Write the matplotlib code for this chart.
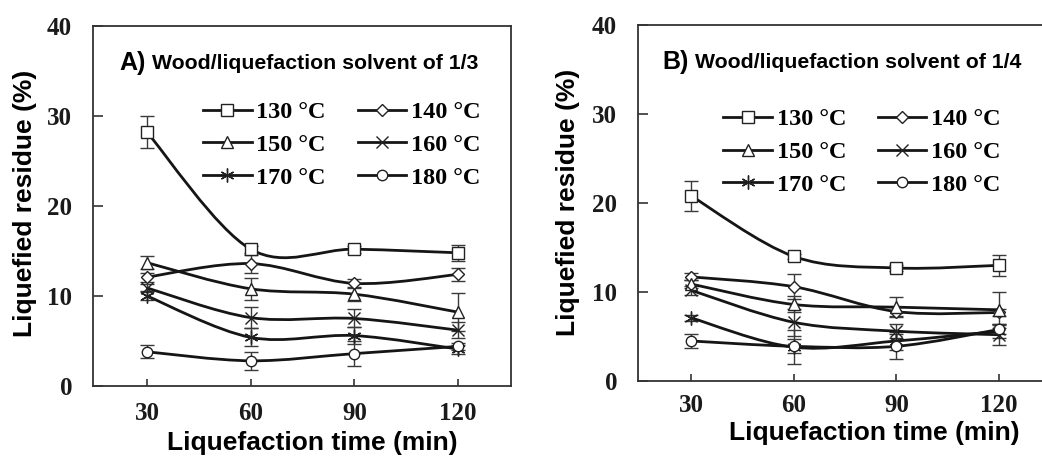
import matplotlib
matplotlib.use("Agg")
import matplotlib.pyplot as plt
from matplotlib.path import Path
from matplotlib.patches import PathPatch
from matplotlib.lines import Line2D

# liquefaction time (min)
times = [30, 60, 90, 120]
temps = ["130 °C", "140 °C", "150 °C", "160 °C", "170 °C", "180 °C"]

# A) wood / solvent 1/3
res_a_130 = [28.2, 15.2, 15.2, 14.8]
res_a_140 = [12.1, 13.6, 11.4, 12.4]
res_a_150 = [13.7, 10.8, 10.2, 8.2]
res_a_160 = [10.9, 7.6, 7.5, 6.2]
res_a_170 = [10.0, 5.4, 5.6, 4.1]
res_a_180 = [3.8, 2.8, 3.6, 4.4]
err_a_130 = [1.8, 0.4, 0.4, 0.9]
err_a_140 = [0.5, 1.0, 0.5, 0.7]
err_a_150 = [0.7, 1.2, 0.8, 2.1]
err_a_160 = [0.4, 1.2, 1.0, 0.9]
err_a_170 = [0.4, 1.0, 0.9, 0.5]
err_a_180 = [0.7, 1.0, 1.4, 0.4]

# B) wood / solvent 1/4
res_b_130 = [20.8, 14.0, 12.7, 13.0]
res_b_140 = [11.7, 10.6, 7.8, 7.7]
res_b_150 = [10.9, 8.6, 8.3, 8.0]
res_b_160 = [10.2, 6.6, 5.6, 5.2]
res_b_170 = [7.1, 3.8, 4.5, 5.6]
res_b_180 = [4.5, 3.9, 3.9, 5.8]
err_b_130 = [1.7, 0.3, 0.3, 1.2]
err_b_140 = [0.4, 1.4, 0.5, 0.4]
err_b_150 = [0.5, 0.9, 1.1, 2.0]
err_b_160 = [0.5, 1.5, 0.8, 1.2]
err_b_170 = [0.3, 1.9, 1.0, 0.8]
err_b_180 = [0.8, 0.8, 1.4, 0.5]

markers = ["s", "D", "^", "x", (6, 2, 0), "o"]
msizes = [9, 6, 8, 8, 10, 7.5]

SERIF = "Liberation Serif"
SANS = "Liberation Sans"
INK = "#151515"


def smooth_path(xs, ys):
    # Excel style smoothed line (Catmull-Rom as cubic Bezier)
    pts = list(zip(xs, ys))
    n = len(pts)
    verts = [pts[0]]
    codes = [Path.MOVETO]
    for i in range(n - 1):
        p0 = pts[max(i - 1, 0)]
        p1 = pts[i]
        p2 = pts[i + 1]
        p3 = pts[min(i + 2, n - 1)]
        c1 = (p1[0] + (p2[0] - p0[0]) / 6, p1[1] + (p2[1] - p0[1]) / 6)
        c2 = (p2[0] - (p3[0] - p1[0]) / 6, p2[1] - (p3[1] - p1[1]) / 6)
        verts += [c1, c2, p2]
        codes += [Path.CURVE4] * 3
    return Path(verts, codes)


def panel(ax, series, errs, xlim, tag, title, legend_xy, ylab_pad, xlab_pad):
    for k, (vals, err) in enumerate(zip(series, errs)):
        ax.add_patch(PathPatch(smooth_path(times, vals), fill=False,
                               lw=2.0, edgecolor=INK, zorder=3))
        ax.errorbar(times, vals, yerr=err, fmt="none", ecolor="#3a3a3a",
                    elinewidth=1.0, capsize=5, capthick=1.0, zorder=2)
        ax.plot(times, vals, linestyle="none", marker=markers[k],
                markersize=msizes[k], mfc="white", mec="#222222",
                mew=1.0, zorder=4)

    ax.set_xlim(*xlim)
    ax.set_ylim(0, 40)
    ax.set_xticks(times)
    ax.set_yticks([0, 10, 20, 30, 40])
    ax.tick_params(axis="y", direction="in", length=7, width=1.2,
                   pad=ylab_pad, color="#333333")
    ax.tick_params(axis="x", direction="in", length=5, width=1.2,
                   pad=xlab_pad, color="#333333")
    for lab in ax.get_xticklabels() + ax.get_yticklabels():
        lab.set_fontfamily(SERIF)
        lab.set_fontweight("bold")
        lab.set_fontsize(18)
        lab.set_color("#1a1a1a")
    for sp in ax.spines.values():
        sp.set_linewidth(1.3)
        sp.set_color("#333333")

    ax.text(tag[0], tag[1], title[0], transform=ax.transAxes, ha="left",
            va="center", fontfamily=SANS, fontweight="bold", fontsize=18)
    ax.text(tag[2], tag[1], title[1], transform=ax.transAxes, ha="left",
            va="center", fontfamily=SANS, fontweight="bold", fontsize=15.3)

    handles = [Line2D([], [], color=INK, lw=2.0, marker=markers[k],
                      markersize=msizes[k], mfc="white", mec="#222222",
                      mew=1.0) for k in range(6)]
    # order rows: 130 140 / 150 160 / 170 180 with ncol=2 (column-major)
    order = [0, 2, 4, 1, 3, 5]
    ax.legend([handles[i] for i in order], [temps[i] for i in order],
              ncol=2, loc="upper left", bbox_to_anchor=legend_xy,
              frameon=False, borderpad=0, handlelength=2.0,
              handletextpad=0.2, columnspacing=1.3, labelspacing=0.44,
              prop={"family": SERIF, "weight": "bold", "size": 17.5})


def main():
    fig = plt.figure(figsize=(10.42, 4.65), dpi=100)
    ax_a = fig.add_axes([0.0893, 0.1699, 0.4012, 0.7742])
    ax_b = fig.add_axes([0.6123, 0.1806, 0.4031, 0.7656])

    panel(ax_a,
          [res_a_130, res_a_140, res_a_150, res_a_160, res_a_170, res_a_180],
          [err_a_130, err_a_140, err_a_150, err_a_160, err_a_170, err_a_180],
          (14.4, 135.3), (0.062, 0.897, 0.141),
          ("A)", "Wood/liquefaction solvent of 1/3"), (0.234, 0.825),
          15, 11.5)
    panel(ax_b,
          [res_b_130, res_b_140, res_b_150, res_b_160, res_b_170, res_b_180],
          [err_b_130, err_b_140, err_b_150, err_b_160, err_b_170, err_b_180],
          (14.5, 137.2), (0.057, 0.896, 0.136),
          ("B)", "Wood/liquefaction solvent of 1/4"), (0.174, 0.80),
          15, 9.5)

    lab = dict(fontfamily=SANS, fontweight="bold", fontsize=19,
               ha="center", va="center")
    fig.text(0.024, 0.563, "Liquefied residue (%)", rotation=90, **lab)
    fig.text(0.545, 0.565, "Liquefied residue (%)", rotation=90, **lab)
    fig.text(0.2994, 0.047, "Liquefaction time (min)", **lab)
    fig.text(0.8388, 0.069, "Liquefaction time (min)", **lab)

    fig.savefig("out.png", dpi=100)


if __name__ == "__main__":
    main()
